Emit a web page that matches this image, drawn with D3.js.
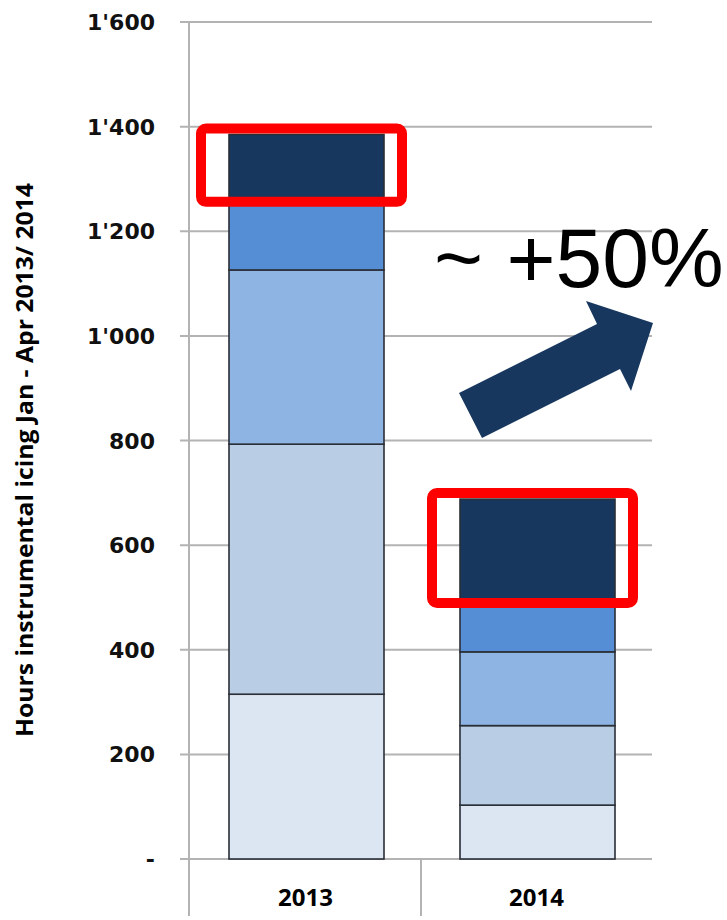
<!DOCTYPE html>
<html>
<head>
<meta charset="utf-8">
<script src="https://cdn.jsdelivr.net/npm/d3@7"></script>
<style>
  html, body { margin: 0; padding: 0; background: #fff; }
  svg { display: block; }
</style>
</head>
<body>
<svg id="chart" width="727" height="920"></svg>
<script>
// Years on the x axis
const years = ["2013", "2014"];
// Stacked components, bottom to top (hours)
const seg1 = [315, 103];
const seg2 = [478, 152];
const seg3 = [333, 141];
const seg4 = [136, 99];
const seg5 = [123, 193];
const segColors = ["#DCE6F2", "#B9CDE5", "#8EB4E3", "#558ED5", "#17375E"];
// Y axis ticks
const yTicks = [0, 200, 400, 600, 800, 1000, 1200, 1400, 1600];
const yTickLabels = ["-", "200", "400", "600", "800", "1'000", "1'200", "1'400", "1'600"];
const axisTitle = "Hours instrumental icing Jan - Apr 2013/ 2014";
const changeText = "~ +50%";

const svg = d3.select("#chart");
const y = d3.scaleLinear().domain([0, 1600]).range([859, 22]);
const x = d3.scaleBand().domain(years).range([190, 652]).paddingInner(0).paddingOuter(0);
const barW = 155;
const barX = d => x(d) + (x.bandwidth() - barW) / 2 + 1;

const rows = years.map((yr, i) => ({ year: yr, s0: seg1[i], s1: seg2[i], s2: seg3[i], s3: seg4[i], s4: seg5[i] }));
const stack = d3.stack().keys(["s0", "s1", "s2", "s3", "s4"]);
const series = stack(rows);

// Gridlines
svg.append("g").selectAll("line").data(yTicks).join("line")
  .attr("x1", 180).attr("x2", 652)
  .attr("y1", d => y(d)).attr("y2", d => y(d))
  .attr("stroke", "#b3b3b3").attr("stroke-width", 2);

// Vertical axis line
svg.append("line").attr("x1", 189).attr("x2", 189).attr("y1", y(1600)).attr("y2", 916)
  .attr("stroke", "#b3b3b3").attr("stroke-width", 2);
// Category separator
svg.append("line").attr("x1", x("2014")).attr("x2", x("2014")).attr("y1", y(0)).attr("y2", 916)
  .attr("stroke", "#b3b3b3").attr("stroke-width", 2);

// Tick labels
svg.append("g").selectAll("text").data(yTicks).join("text")
  .attr("x", 155).attr("y", d => y(d) + 8)
  .attr("text-anchor", "end")
  .attr("font-family", "DejaVu Sans")
  .attr("font-weight", "bold")
  .attr("font-size", 22)
  .attr("fill", "#111")
  .text((d, i) => yTickLabels[i]);

// Stacked bars
svg.append("g").selectAll("g").data(series).join("g")
  .attr("fill", (d, i) => segColors[i])
  .selectAll("rect").data(d => d).join("rect")
  .attr("x", d => barX(d.data.year))
  .attr("width", barW)
  .attr("y", d => y(d[1]))
  .attr("height", d => y(d[0]) - y(d[1]))
  .attr("stroke", "#2a2f36").attr("stroke-width", 1.6);

// Category labels
svg.append("g").selectAll("text").data(years).join("text")
  .attr("x", d => x(d) + x.bandwidth() / 2)
  .attr("y", 906)
  .attr("text-anchor", "middle")
  .attr("font-family", "Open Sans")
  .attr("font-weight", "bold")
  .attr("font-size", 24)
  .attr("fill", "#000")
  .text(d => d);

// Y axis title
svg.append("text")
  .attr("transform", "translate(33,460) rotate(-90)")
  .attr("text-anchor", "middle")
  .attr("font-family", "Open Sans")
  .attr("font-weight", "bold")
  .attr("font-size", 23)
  .attr("textLength", 554)
  .attr("lengthAdjust", "spacingAndGlyphs")
  .attr("fill", "#000")
  .text(axisTitle);

// Highlight boxes around the top component of each bar
const topSeries = series[series.length - 1];
svg.append("g").selectAll("rect").data(topSeries).join("rect")
  .attr("x", d => barX(d.data.year) - 28)
  .attr("width", barW + 46)
  .attr("y", d => y(d[1]) - 6)
  .attr("height", d => y(d[0]) - y(d[1]) + 9)
  .attr("rx", 5)
  .attr("fill", "none")
  .attr("stroke", "#ff0000")
  .attr("stroke-width", 10);

// Trend arrow
const arrowPts = [[482, 438], [459, 393], [597, 324], [586, 301], [653, 323], [631, 391], [620, 369]];
svg.append("path")
  .attr("d", d3.line()(arrowPts) + "Z")
  .attr("fill", "#17375E");

svg.append("text")
  .attr("x", 434).attr("y", 287)
  .attr("font-family", "Liberation Sans, Arial, sans-serif")
  .attr("font-size", 84)
  .attr("fill", "#000")
  .text(changeText);
</script>
</body>
</html>
